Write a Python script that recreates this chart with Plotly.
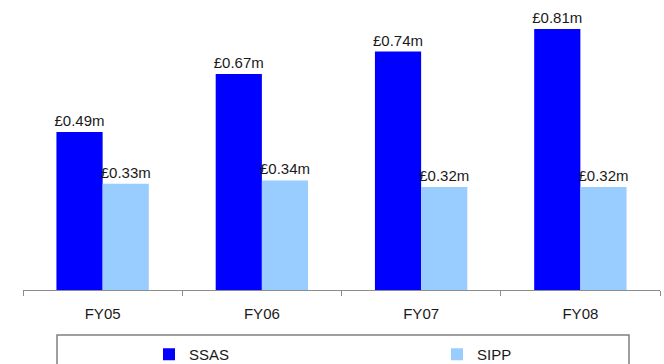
import plotly.graph_objects as go

categories = ["FY05", "FY06", "FY07", "FY08"]
ssas = [0.49, 0.67, 0.74, 0.81]
sipp = [0.33, 0.34, 0.32, 0.32]
series_names = ["SSAS", "SIPP"]

FONT = "Liberation Sans, Arial, sans-serif"
TXT = "#1a1a1a"

fig = go.Figure()
for name, vals, col in [(series_names[0], ssas, "#0000FF"), (series_names[1], sipp, "#99CCFF")]:
    fig.add_trace(go.Bar(
        x=categories, y=vals, name=name,
        marker=dict(color=col, line=dict(width=0)),
        text=[f"£{v:.2f}m" for v in vals],
        textposition="outside", constraintext="none",
        textfont=dict(family=FONT, size=15, color=TXT),
        cliponaxis=False,
    ))

fig.update_layout(
    width=664, height=364,
    margin=dict(l=23, r=4, t=0, b=74),
    paper_bgcolor="white", plot_bgcolor="white",
    barmode="group", bargap=0.42, bargroupgap=0,
    font=dict(family=FONT, size=15, color=TXT),
    showlegend=True,
    legend=dict(
        orientation="h", xref="container", yref="container",
        x=149 / 664, y=26 / 364, xanchor="left", yanchor="top",
        entrywidth=243, entrywidthmode="pixels",
        font=dict(family=FONT, size=15, color=TXT),
        bgcolor="rgba(0,0,0,0)", borderwidth=0,
    ),
    xaxis=dict(
        showline=True, linecolor="#8c8c8c", linewidth=1,
        ticks="outside", tickson="boundaries", ticklen=5, tickcolor="#8c8c8c",
        ticklabelstandoff=10,
        showgrid=False, tickfont=dict(family=FONT, size=15, color=TXT),
    ),
    yaxis=dict(range=[0, 0.9], visible=False, showgrid=False),
    shapes=[dict(type="rect", xref="paper", yref="paper",
                 x0=(57 - 23) / 637, x1=(629 - 23) / 637,
                 y0=-0.155, y1=-0.30,
                 line=dict(color="#808080", width=1.5), fillcolor="rgba(0,0,0,0)",
                 layer="below")],
)

fig.write_html("out.html")
